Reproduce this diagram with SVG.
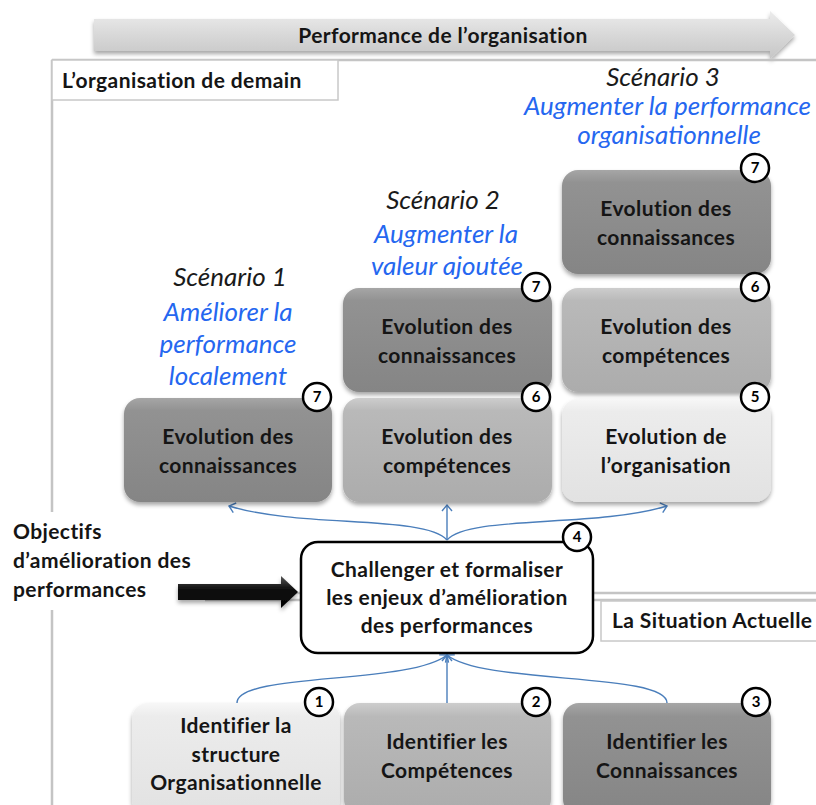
<svg xmlns="http://www.w3.org/2000/svg" width="816" height="805" viewBox="0 0 816 805">
<defs>
<style>
.t{font-family:Lato,"Liberation Sans",sans-serif;font-weight:bold;font-size:21px;letter-spacing:0.4px;fill:#151515;text-anchor:middle}
.tl{text-anchor:start}
.it{font-family:Lato,"Liberation Sans",sans-serif;font-style:italic;font-size:26px;text-anchor:middle}
.sc{fill:#1a1a1a}
.bl{fill:#2567f0}
.bg text{font-family:Lato,"Liberation Sans",sans-serif;font-weight:bold;font-size:15px;text-anchor:middle;fill:#000}
.bg circle{fill:#fff;stroke:#000;stroke-width:2.5}
.frame{stroke:#c4c4c4;stroke-width:2.5;fill:none}
.lab{fill:#fff;stroke:#c8c8c8;stroke-width:1.5}
.con{fill:none;stroke:#4a7ebb;stroke-width:1.4}
.box{filter:url(#sh)}
</style>
<linearGradient id="gD" x1="0" y1="0" x2="0" y2="1"><stop offset="0" stop-color="#a6a6a6"/><stop offset="0.12" stop-color="#929292"/><stop offset="1" stop-color="#858585"/></linearGradient>
<linearGradient id="gM" x1="0" y1="0" x2="0" y2="1"><stop offset="0" stop-color="#cdcdcd"/><stop offset="0.12" stop-color="#b9b9b9"/><stop offset="1" stop-color="#acacac"/></linearGradient>
<linearGradient id="gL" x1="0" y1="0" x2="0" y2="1"><stop offset="0" stop-color="#f7f7f7"/><stop offset="0.12" stop-color="#ececec"/><stop offset="1" stop-color="#e2e2e2"/></linearGradient>
<linearGradient id="gA" x1="0" y1="0" x2="0" y2="1"><stop offset="0" stop-color="#ececec"/><stop offset="0.5" stop-color="#d8d8d8"/><stop offset="1" stop-color="#c6c6c6"/></linearGradient>
<linearGradient id="gB" x1="0" y1="0" x2="0" y2="1"><stop offset="0" stop-color="#555"/><stop offset="0.4" stop-color="#111"/><stop offset="1" stop-color="#000"/></linearGradient>
<filter id="sh" x="-10%" y="-10%" width="120%" height="130%"><feDropShadow dx="0" dy="3" stdDeviation="2" flood-color="#000" flood-opacity="0.35"/></filter>
<marker id="ah" viewBox="-8 -6 10 12" markerWidth="10" markerHeight="12" refX="0" refY="0" orient="auto" markerUnits="userSpaceOnUse">
<path d="M-6,-5 L0,0 L-6,5" fill="none" stroke="#4a7ebb" stroke-width="1.4"/>
</marker>
</defs>
<rect width="816" height="805" fill="#fff"/>

<!-- top arrow -->
<g id="perf-arrow">
<path d="M94,19 L770,19 L770,11 L795,35 L770,59 L770,51 L94,51 Z" fill="url(#gA)" filter="url(#sh)"/>
<text class="t" x="443" y="43">Performance de l’organisation</text>
</g>

<!-- frames -->
<g id="frames">
<line class="frame" x1="52" y1="60" x2="816" y2="60"/>
<line class="frame" x1="52" y1="60" x2="52" y2="805"/>
<line class="frame" x1="52" y1="593" x2="816" y2="593"/>
<line class="frame" x1="52" y1="600" x2="816" y2="600"/>
<rect class="lab" x="52" y="60" width="286" height="40"/>
<text class="t tl" x="62" y="88">L’organisation de demain</text>
<rect class="lab" x="601" y="601" width="222" height="40"/>
<text class="t tl" x="612" y="628">La Situation Actuelle</text>
</g>

<!-- objectives -->
<g id="objectifs">
<rect x="0" y="512" width="205" height="98" fill="#fff"/>
<text class="t tl" x="13" y="539">Objectifs</text>
<text class="t tl" x="13" y="568">d’amélioration des</text>
<text class="t tl" x="13" y="597">performances</text>
<path d="M178,584 L281,584 L281,576 L298,592 L281,608 L281,600 L178,600 Z" fill="url(#gB)" filter="url(#sh)"/>
</g>

<!-- scenario labels -->
<g id="scenarios">
<text class="it sc" x="230" y="286">Scénario 1</text>
<text class="it bl" x="228" y="321">Améliorer la</text>
<text class="it bl" x="228" y="353">performance</text>
<text class="it bl" x="228" y="385">localement</text>
<text class="it sc" x="443" y="209">Scénario 2</text>
<text class="it bl" x="446" y="243">Augmenter la</text>
<text class="it bl" x="447" y="275">valeur ajoutée</text>
<text class="it sc" x="663" y="86">Scénario 3</text>
<text class="it bl" x="524" y="115" style="text-anchor:start">Augmenter la performance</text>
<text class="it bl" x="669" y="144">organisationnelle</text>
</g>

<!-- connectors -->
<g id="connectors">
<path class="con" d="M447,540 L447,505" marker-end="url(#ah)"/>
<path class="con" d="M447,540 C425,515 300,528 229,506" marker-end="url(#ah)"/>
<path class="con" d="M447,540 C469,515 595,528 667,506" marker-end="url(#ah)"/>
<path class="con" d="M237,703 C237,672 410,685 447,655" marker-end="url(#ah)"/>
<path class="con" d="M447,703 L447,655" marker-end="url(#ah)"/>
<path class="con" d="M667,703 C667,672 484,685 447,655" marker-end="url(#ah)"/>
</g>

<!-- nodes -->
<g id="s1-connaissances">
<rect class="box" x="124" y="398" width="208" height="104" rx="16" fill="url(#gD)"/>
<text class="t" x="228" y="444">Evolution des</text>
<text class="t" x="228" y="473">connaissances</text>
<g class="bg"><circle cx="317" cy="397" r="14"/><text x="317" y="402">7</text></g>
</g>

<g id="s2-connaissances">
<rect class="box" x="343" y="288" width="209" height="104" rx="16" fill="url(#gD)"/>
<text class="t" x="447" y="334">Evolution des</text>
<text class="t" x="447" y="363">connaissances</text>
<g class="bg"><circle cx="536" cy="287" r="14"/><text x="536" y="292">7</text></g>
</g>

<g id="s2-competences">
<rect class="box" x="343" y="398" width="209" height="104" rx="16" fill="url(#gM)"/>
<text class="t" x="447" y="444">Evolution des</text>
<text class="t" x="447" y="473">compétences</text>
<g class="bg"><circle cx="536" cy="397" r="14"/><text x="536" y="402">6</text></g>
</g>

<g id="s3-connaissances">
<rect class="box" x="562" y="170" width="209" height="104" rx="16" fill="url(#gD)"/>
<text class="t" x="666" y="216">Evolution des</text>
<text class="t" x="666" y="245">connaissances</text>
<g class="bg"><circle cx="755" cy="168" r="14"/><text x="755" y="173">7</text></g>
</g>

<g id="s3-competences">
<rect class="box" x="562" y="288" width="209" height="104" rx="16" fill="url(#gM)"/>
<text class="t" x="666" y="334">Evolution des</text>
<text class="t" x="666" y="363">compétences</text>
<g class="bg"><circle cx="755" cy="287" r="14"/><text x="755" y="292">6</text></g>
</g>

<g id="s3-organisation">
<rect class="box" x="562" y="399" width="209" height="103" rx="16" fill="url(#gL)"/>
<text class="t" x="666" y="444">Evolution de</text>
<text class="t" x="666" y="473">l’organisation</text>
<g class="bg"><circle cx="755" cy="397" r="14"/><text x="755" y="402">5</text></g>
</g>

<g id="challenger">
<rect x="301" y="542" width="292" height="111" rx="17" fill="#fff" stroke="#000" stroke-width="2.5"/>
<text class="t" x="447" y="577">Challenger et formaliser</text>
<text class="t" x="447" y="605">les enjeux d’amélioration</text>
<text class="t" x="447" y="633">des performances</text>
<g class="bg"><circle cx="577" cy="537" r="14"/><text x="577" y="542">4</text></g>
</g>

<g id="id-structure">
<rect class="box" x="132" y="703" width="208" height="112" rx="16" fill="url(#gL)"/>
<text class="t" x="236" y="733">Identifier la</text>
<text class="t" x="236" y="762">structure</text>
<text class="t" x="236" y="790">Organisationnelle</text>
<g class="bg"><circle cx="319" cy="702" r="14"/><text x="319" y="707">1</text></g>
</g>

<g id="id-competences">
<rect class="box" x="344" y="703" width="207" height="112" rx="16" fill="url(#gM)"/>
<text class="t" x="447" y="749">Identifier les</text>
<text class="t" x="447" y="778">Compétences</text>
<g class="bg"><circle cx="536" cy="702" r="14"/><text x="536" y="707">2</text></g>
</g>

<g id="id-connaissances">
<rect class="box" x="563" y="703" width="208" height="112" rx="16" fill="url(#gD)"/>
<text class="t" x="667" y="749">Identifier les</text>
<text class="t" x="667" y="778">Connaissances</text>
<g class="bg"><circle cx="756" cy="702" r="14"/><text x="756" y="707">3</text></g>
</g>
</svg>
